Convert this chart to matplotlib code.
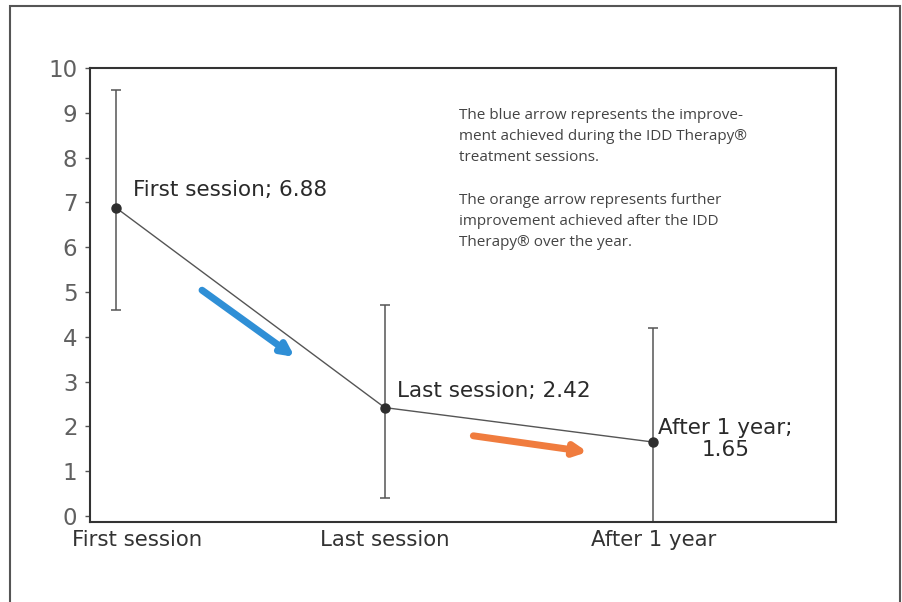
import matplotlib
matplotlib.use('Agg')
import matplotlib.pyplot as plt
import matplotlib.transforms as mtransforms
from matplotlib.patches import Rectangle

# DATA
stages = ['First session', 'Last session', 'After 1 year']
means = [6.88, 2.42, 1.65]
err_upper = [9.5, 4.7, 4.2]
err_lower = [4.6, 0.4, -1.0]
point_labels = ['First session; 6.88', 'Last session; 2.42', 'After 1 year;\n1.65']
y_ticks = list(range(0, 11))
note = ("The blue arrow represents the improve-\n"
        "ment achieved during the IDD Therapy\u00ae\n"
        "treatment sessions.\n"
        "\n"
        "The orange arrow represents further\n"
        "improvement achieved after the IDD\n"
        "Therapy\u00ae over the year.")

plt.rcParams['font.family'] = ['DejaVu Sans']

fig = plt.figure(figsize=(9.02, 6.02), dpi=100)
ax = fig.add_axes([90 / 902, 80 / 602, 746 / 902, 454 / 602])

x = list(range(len(stages)))
yerr = [[m - lo for m, lo in zip(means, err_lower)],
        [hi - m for m, hi in zip(means, err_upper)]]

ax.errorbar(x, means, yerr=yerr, fmt='none', ecolor='#555555', elinewidth=1.1,
            capsize=3.5, capthick=1.1, zorder=2)
ax.plot(x, means, color='#555555', lw=1.0, marker='o', markersize=6.5,
        markerfacecolor='#2e2e2e', markeredgecolor='#2e2e2e', zorder=3)

# point labels
offsets = [(17, 18), (12, 17), (5, 3)]
for xi, yi, lab, off in zip(x, means, point_labels, offsets):
    ax.annotate(lab, (xi, yi), xytext=off, textcoords='offset pixels',
                ha='left', va='center', multialignment='center',
                fontsize=15.5, color='#2a2a2a', linespacing=1.1)

# arrows
ax.annotate('', xy=(0.665, 3.55), xytext=(0.32, 5.04),
            arrowprops=dict(arrowstyle='-|>', color='#2f8fd6', lw=5,
                            mutation_scale=18, shrinkA=0, shrinkB=0))
ax.annotate('', xy=(1.755, 1.43), xytext=(1.33, 1.79),
            arrowprops=dict(arrowstyle='-|>', color='#f07c3e', lw=5,
                            mutation_scale=18, shrinkA=0, shrinkB=0))

ax.text(0.4946, 0.912, note, transform=ax.transAxes, ha='left', va='top',
        fontsize=11, color='#444444', linespacing=1.56, family=['Open Sans', 'DejaVu Sans'])

ax.set_xlim(-0.097, 2.68)
ax.set_ylim(-0.134, 10)
ax.set_yticks(y_ticks)
ax.tick_params(axis='y', direction='out', length=3.5, width=1, color='#555555',
               labelsize=16.5, labelcolor='#606060', pad=5.5)
ax.set_xticks(x)
ax.set_xticklabels(stages, fontsize=15.3, color='#333333')
ax.tick_params(axis='x', length=0, pad=6)
# first label sits a bit to the right in the original
lbl0 = ax.get_xticklabels()[0]
lbl0.set_transform(lbl0.get_transform() + mtransforms.ScaledTranslation(21 / 100, 0, fig.dpi_scale_trans))

for s in ax.spines.values():
    s.set_color('#333333')
    s.set_linewidth(1.5)

# outer frame
fig.patches.append(Rectangle((10 / 902, -0.02), 890 / 902, 1.02 - 6 / 602,
                             transform=fig.transFigure, fill=False,
                             edgecolor='#555555', lw=1.5))

fig.savefig('out.png', dpi=100)
